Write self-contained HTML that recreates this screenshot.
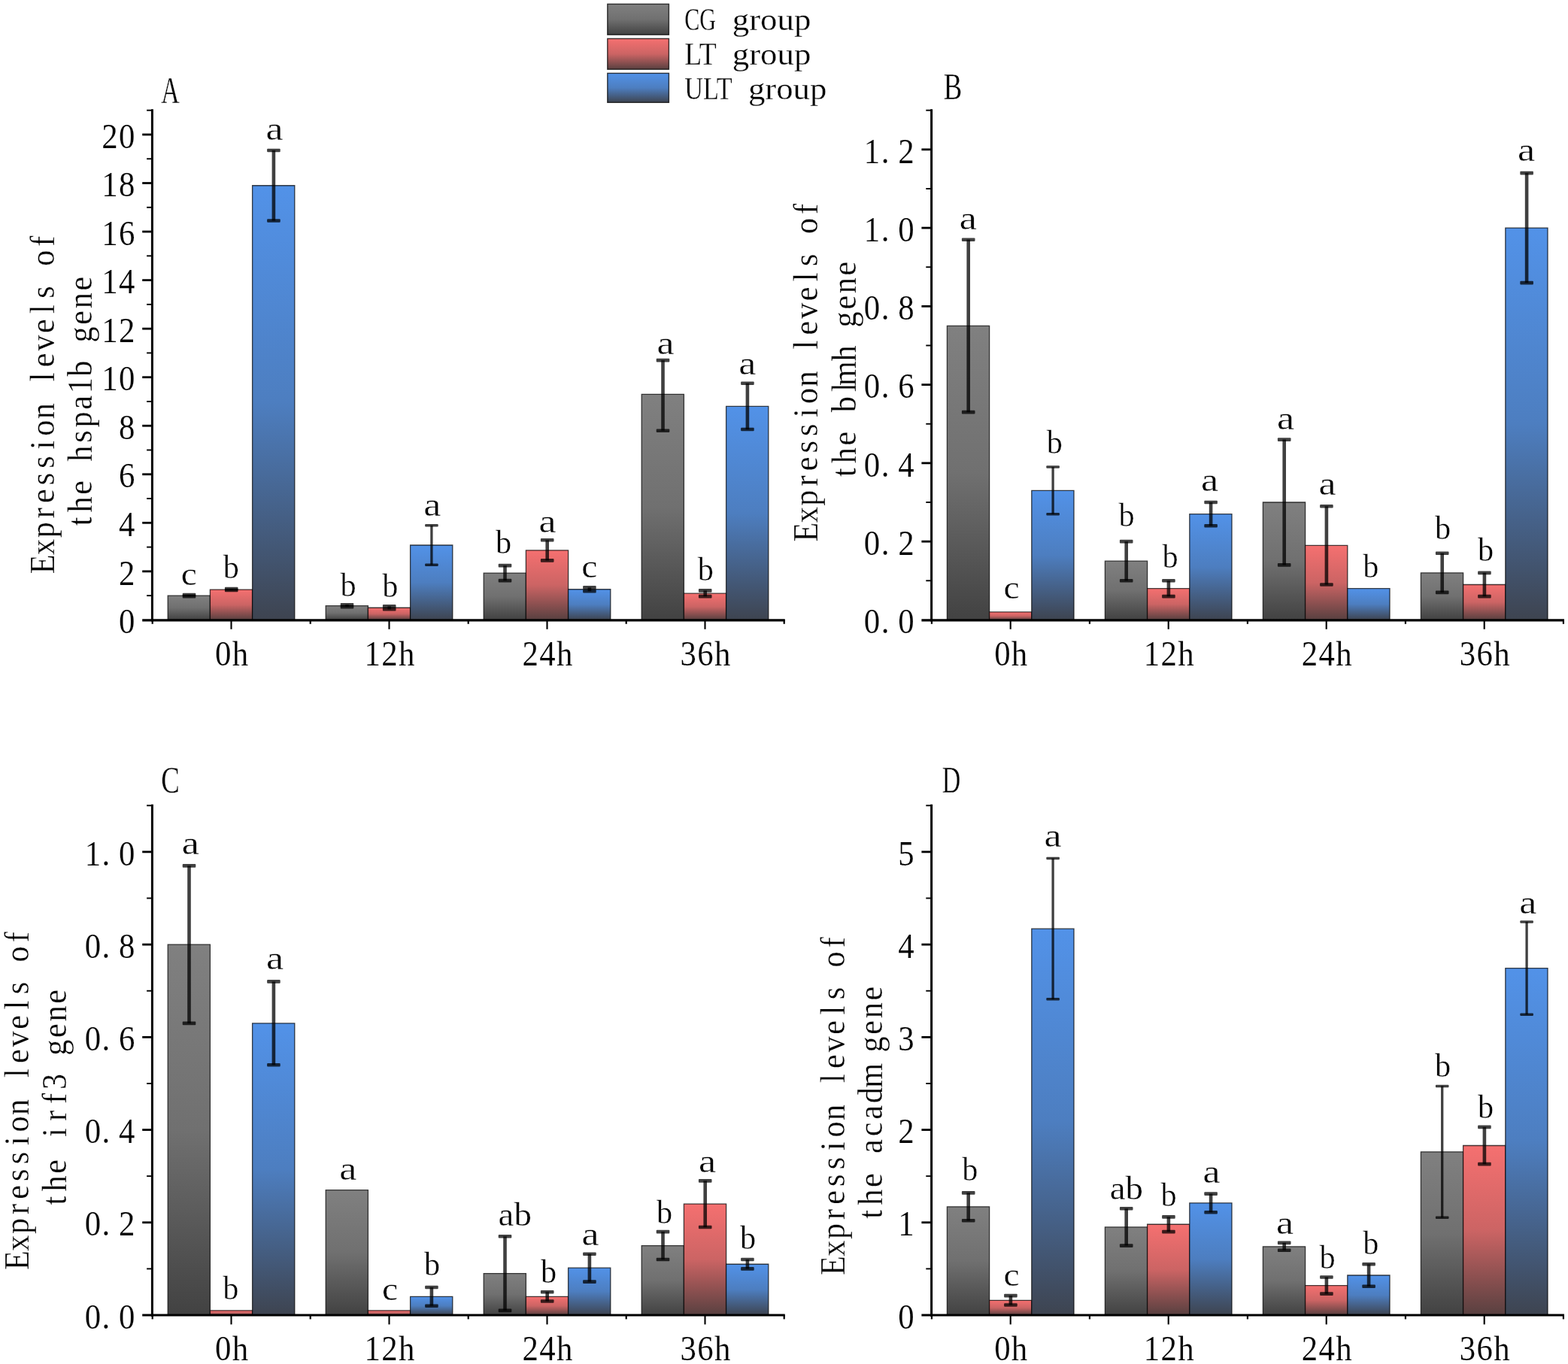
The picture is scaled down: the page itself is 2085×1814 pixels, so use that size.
<!DOCTYPE html>
<html lang="en"><head><meta charset="utf-8"><title>Expression levels of hspa1b, blmh, irf3 and acadm genes</title>
<style>html,body{margin:0;padding:0;background:#fff}body{width:2085px;height:1814px;overflow:hidden}svg{display:block}text{font-family:'Liberation Serif', serif;fill:#000}.m{stroke:#fff;stroke-width:0.15}.s{stroke:#fff;stroke-width:0.35}.t{stroke:#fff;stroke-width:0.3}</style>
</head><body>
<svg width="2085" height="1814" viewBox="0 0 2085 1814">
<defs>
<linearGradient id="gg" x1="0" y1="0" x2="0" y2="1"><stop offset="0" stop-color="#808080"/><stop offset="0.5" stop-color="#707070"/><stop offset="1" stop-color="#424242"/></linearGradient>
<linearGradient id="gr" x1="0" y1="0" x2="0" y2="1"><stop offset="0" stop-color="#f57070"/><stop offset="0.5" stop-color="#cc6464"/><stop offset="1" stop-color="#584040"/></linearGradient>
<linearGradient id="gb" x1="0" y1="0" x2="0" y2="1"><stop offset="0" stop-color="#5292e8"/><stop offset="0.5" stop-color="#4d7ec0"/><stop offset="1" stop-color="#3e4450"/></linearGradient>
</defs>
<rect width="2085" height="1814" fill="#fff"/>
<g id="legend">
<rect x="807.8" y="5.4" width="81.6" height="40.80" fill="url(#gg)" stroke="#000" stroke-opacity="0.75" stroke-width="1.4"/>
<text y="39.50" font-size="43" class="t"><tspan x="910.21" textLength="41.78" lengthAdjust="spacingAndGlyphs">CG</tspan> <tspan x="973.83" textLength="104.44" lengthAdjust="spacingAndGlyphs">group</tspan></text>
<rect x="807.8" y="51.4" width="81.6" height="40.80" fill="url(#gr)" stroke="#000" stroke-opacity="0.75" stroke-width="1.4"/>
<text y="85.80" font-size="43" class="t"><tspan x="910.21" textLength="41.78" lengthAdjust="spacingAndGlyphs">LT</tspan> <tspan x="973.83" textLength="104.44" lengthAdjust="spacingAndGlyphs">group</tspan></text>
<rect x="807.8" y="97.4" width="81.6" height="38.90" fill="url(#gb)" stroke="#000" stroke-opacity="0.75" stroke-width="1.4"/>
<text y="132.00" font-size="43" class="t"><tspan x="910.32" textLength="62.67" lengthAdjust="spacingAndGlyphs">ULT</tspan> <tspan x="994.93" textLength="104.44" lengthAdjust="spacingAndGlyphs">group</tspan></text>
</g>
<g id="panelA">
<rect x="223.20" y="792.13" width="56.20" height="32.27" fill="url(#gg)"/>
<polyline points="223.20,824.40 223.20,792.13 279.40,792.13 279.40,824.40" fill="none" stroke="#000" stroke-width="1.3" stroke-opacity="0.72"/>
<rect x="279.40" y="784.06" width="56.20" height="40.34" fill="url(#gr)"/>
<polyline points="279.40,824.40 279.40,784.06 335.60,784.06 335.60,824.40" fill="none" stroke="#000" stroke-width="1.3" stroke-opacity="0.72"/>
<rect x="335.60" y="246.74" width="56.20" height="577.66" fill="url(#gb)"/>
<polyline points="335.60,824.40 335.60,246.74 391.80,246.74 391.80,824.40" fill="none" stroke="#000" stroke-width="1.3" stroke-opacity="0.72"/>
<rect x="433.20" y="805.68" width="56.20" height="18.72" fill="url(#gg)"/>
<polyline points="433.20,824.40 433.20,805.68 489.40,805.68 489.40,824.40" fill="none" stroke="#000" stroke-width="1.3" stroke-opacity="0.72"/>
<rect x="489.40" y="808.26" width="56.20" height="16.14" fill="url(#gr)"/>
<polyline points="489.40,824.40 489.40,808.26 545.60,808.26 545.60,824.40" fill="none" stroke="#000" stroke-width="1.3" stroke-opacity="0.72"/>
<rect x="545.60" y="725.00" width="56.20" height="99.40" fill="url(#gb)"/>
<polyline points="545.60,824.40 545.60,725.00 601.80,725.00 601.80,824.40" fill="none" stroke="#000" stroke-width="1.3" stroke-opacity="0.72"/>
<rect x="643.20" y="762.12" width="56.20" height="62.28" fill="url(#gg)"/>
<polyline points="643.20,824.40 643.20,762.12 699.40,762.12 699.40,824.40" fill="none" stroke="#000" stroke-width="1.3" stroke-opacity="0.72"/>
<rect x="699.40" y="731.78" width="56.20" height="92.62" fill="url(#gr)"/>
<polyline points="699.40,824.40 699.40,731.78 755.60,731.78 755.60,824.40" fill="none" stroke="#000" stroke-width="1.3" stroke-opacity="0.72"/>
<rect x="755.60" y="783.74" width="56.20" height="40.66" fill="url(#gb)"/>
<polyline points="755.60,824.40 755.60,783.74 811.80,783.74 811.80,824.40" fill="none" stroke="#000" stroke-width="1.3" stroke-opacity="0.72"/>
<rect x="853.20" y="524.28" width="56.20" height="300.12" fill="url(#gg)"/>
<polyline points="853.20,824.40 853.20,524.28 909.40,524.28 909.40,824.40" fill="none" stroke="#000" stroke-width="1.3" stroke-opacity="0.72"/>
<rect x="909.40" y="789.22" width="56.20" height="35.18" fill="url(#gr)"/>
<polyline points="909.40,824.40 909.40,789.22 965.60,789.22 965.60,824.40" fill="none" stroke="#000" stroke-width="1.3" stroke-opacity="0.72"/>
<rect x="965.60" y="540.41" width="56.20" height="283.99" fill="url(#gb)"/>
<polyline points="965.60,824.40 965.60,540.41 1021.80,540.41 1021.80,824.40" fill="none" stroke="#000" stroke-width="1.3" stroke-opacity="0.72"/>
<g fill="#000" fill-opacity="0.75"><rect x="249.20" y="791.16" width="4.6" height="1.94"/><rect x="242.70" y="788.86" width="17.6" height="4.6" rx="1"/><rect x="242.70" y="790.80" width="17.6" height="4.6" rx="1"/></g>
<g fill="#000" fill-opacity="0.75"><rect x="305.40" y="783.09" width="4.6" height="1.94"/><rect x="298.90" y="780.79" width="17.6" height="4.6" rx="1"/><rect x="298.90" y="782.73" width="17.6" height="4.6" rx="1"/></g>
<g fill="#000" fill-opacity="0.75"><rect x="361.60" y="199.95" width="4.6" height="93.59"/><rect x="355.10" y="197.65" width="17.6" height="4.6" rx="1"/><rect x="355.10" y="291.23" width="17.6" height="4.6" rx="1"/></g>
<g fill="#000" fill-opacity="0.75"><rect x="459.20" y="804.23" width="4.6" height="2.90"/><rect x="452.70" y="801.93" width="17.6" height="4.6" rx="1"/><rect x="452.70" y="804.83" width="17.6" height="4.6" rx="1"/></g>
<g fill="#000" fill-opacity="0.75"><rect x="515.40" y="806.33" width="4.6" height="3.87"/><rect x="508.90" y="804.03" width="17.6" height="4.6" rx="1"/><rect x="508.90" y="807.90" width="17.6" height="4.6" rx="1"/></g>
<g fill="#000" fill-opacity="0.75"><rect x="572.25" y="698.86" width="3.3" height="52.28"/><rect x="565.10" y="697.11" width="17.6" height="3.5" rx="1"/><rect x="565.10" y="749.39" width="17.6" height="3.5" rx="1"/></g>
<g fill="#000" fill-opacity="0.75"><rect x="669.20" y="752.11" width="4.6" height="20.01"/><rect x="662.70" y="749.81" width="17.6" height="4.6" rx="1"/><rect x="662.70" y="769.82" width="17.6" height="4.6" rx="1"/></g>
<g fill="#000" fill-opacity="0.75"><rect x="725.40" y="718.23" width="4.6" height="27.11"/><rect x="718.90" y="715.93" width="17.6" height="4.6" rx="1"/><rect x="718.90" y="743.03" width="17.6" height="4.6" rx="1"/></g>
<g fill="#000" fill-opacity="0.75"><rect x="781.60" y="781.32" width="4.6" height="4.84"/><rect x="775.10" y="779.02" width="17.6" height="4.6" rx="1"/><rect x="775.10" y="783.86" width="17.6" height="4.6" rx="1"/></g>
<g fill="#000" fill-opacity="0.75"><rect x="879.20" y="479.10" width="4.6" height="93.59"/><rect x="872.70" y="476.80" width="17.6" height="4.6" rx="1"/><rect x="872.70" y="570.38" width="17.6" height="4.6" rx="1"/></g>
<g fill="#000" fill-opacity="0.75"><rect x="935.40" y="785.35" width="4.6" height="7.75"/><rect x="928.90" y="783.05" width="17.6" height="4.6" rx="1"/><rect x="928.90" y="790.80" width="17.6" height="4.6" rx="1"/></g>
<g fill="#000" fill-opacity="0.75"><rect x="991.60" y="509.75" width="4.6" height="61.32"/><rect x="985.10" y="507.45" width="17.6" height="4.6" rx="1"/><rect x="985.10" y="568.77" width="17.6" height="4.6" rx="1"/></g>
<line x1="202.40" y1="145.20" x2="202.40" y2="826.50" stroke="#000" stroke-width="3.0" stroke-linecap="butt"/>
<line x1="189.20" y1="824.95" x2="1043.70" y2="824.95" stroke="#000" stroke-width="3.2" stroke-linecap="butt"/>
<line x1="189.20" y1="759.86" x2="202.70" y2="759.86" stroke="#000" stroke-width="2.8" stroke-linecap="butt"/>
<line x1="189.20" y1="695.31" x2="202.70" y2="695.31" stroke="#000" stroke-width="2.8" stroke-linecap="butt"/>
<line x1="189.20" y1="630.77" x2="202.70" y2="630.77" stroke="#000" stroke-width="2.8" stroke-linecap="butt"/>
<line x1="189.20" y1="566.23" x2="202.70" y2="566.23" stroke="#000" stroke-width="2.8" stroke-linecap="butt"/>
<line x1="189.20" y1="501.69" x2="202.70" y2="501.69" stroke="#000" stroke-width="2.8" stroke-linecap="butt"/>
<line x1="189.20" y1="437.14" x2="202.70" y2="437.14" stroke="#000" stroke-width="2.8" stroke-linecap="butt"/>
<line x1="189.20" y1="372.60" x2="202.70" y2="372.60" stroke="#000" stroke-width="2.8" stroke-linecap="butt"/>
<line x1="189.20" y1="308.06" x2="202.70" y2="308.06" stroke="#000" stroke-width="2.8" stroke-linecap="butt"/>
<line x1="189.20" y1="243.51" x2="202.70" y2="243.51" stroke="#000" stroke-width="2.8" stroke-linecap="butt"/>
<line x1="189.20" y1="178.97" x2="202.70" y2="178.97" stroke="#000" stroke-width="2.8" stroke-linecap="butt"/>
<line x1="195.10" y1="792.13" x2="202.70" y2="792.13" stroke="#000" stroke-width="1.9" stroke-linecap="butt"/>
<line x1="195.10" y1="727.59" x2="202.70" y2="727.59" stroke="#000" stroke-width="1.9" stroke-linecap="butt"/>
<line x1="195.10" y1="663.04" x2="202.70" y2="663.04" stroke="#000" stroke-width="1.9" stroke-linecap="butt"/>
<line x1="195.10" y1="598.50" x2="202.70" y2="598.50" stroke="#000" stroke-width="1.9" stroke-linecap="butt"/>
<line x1="195.10" y1="533.96" x2="202.70" y2="533.96" stroke="#000" stroke-width="1.9" stroke-linecap="butt"/>
<line x1="195.10" y1="469.41" x2="202.70" y2="469.41" stroke="#000" stroke-width="1.9" stroke-linecap="butt"/>
<line x1="195.10" y1="404.87" x2="202.70" y2="404.87" stroke="#000" stroke-width="1.9" stroke-linecap="butt"/>
<line x1="195.10" y1="340.33" x2="202.70" y2="340.33" stroke="#000" stroke-width="1.9" stroke-linecap="butt"/>
<line x1="195.10" y1="275.79" x2="202.70" y2="275.79" stroke="#000" stroke-width="1.9" stroke-linecap="butt"/>
<line x1="195.10" y1="211.24" x2="202.70" y2="211.24" stroke="#000" stroke-width="1.9" stroke-linecap="butt"/>
<line x1="195.10" y1="146.70" x2="202.70" y2="146.70" stroke="#000" stroke-width="1.9" stroke-linecap="butt"/>
<line x1="307.50" y1="824.00" x2="307.50" y2="836.80" stroke="#000" stroke-width="2.1" stroke-linecap="butt"/>
<line x1="517.50" y1="824.00" x2="517.50" y2="836.80" stroke="#000" stroke-width="2.1" stroke-linecap="butt"/>
<line x1="727.50" y1="824.00" x2="727.50" y2="836.80" stroke="#000" stroke-width="2.1" stroke-linecap="butt"/>
<line x1="937.50" y1="824.00" x2="937.50" y2="836.80" stroke="#000" stroke-width="2.1" stroke-linecap="butt"/>
<line x1="202.70" y1="824.00" x2="202.70" y2="829.80" stroke="#000" stroke-width="2.2" stroke-linecap="butt"/>
<line x1="412.70" y1="824.00" x2="412.70" y2="829.80" stroke="#000" stroke-width="2.2" stroke-linecap="butt"/>
<line x1="622.70" y1="824.00" x2="622.70" y2="829.80" stroke="#000" stroke-width="2.2" stroke-linecap="butt"/>
<line x1="832.70" y1="824.00" x2="832.70" y2="829.80" stroke="#000" stroke-width="2.2" stroke-linecap="butt"/>
<line x1="1042.70" y1="824.00" x2="1042.70" y2="829.80" stroke="#000" stroke-width="2.2" stroke-linecap="butt"/>
<text transform="translate(180.10 842.10) scale(0.93 1)" x="-12.20" y="0" font-size="46" text-anchor="middle" class="m" >0</text>
<text transform="translate(180.10 777.56) scale(0.93 1)" x="-12.20" y="0" font-size="46" text-anchor="middle" class="m" >2</text>
<text transform="translate(180.10 713.01) scale(0.93 1)" x="-12.20" y="0" font-size="46" text-anchor="middle" class="m" >4</text>
<text transform="translate(180.10 648.47) scale(0.93 1)" x="-12.20" y="0" font-size="46" text-anchor="middle" class="m" >6</text>
<text transform="translate(180.10 583.93) scale(0.93 1)" x="-12.20" y="0" font-size="46" text-anchor="middle" class="m" >8</text>
<text transform="translate(180.10 519.39) scale(0.93 1)" x="-36.61 -12.20" y="0" font-size="46" text-anchor="middle" class="m" >10</text>
<text transform="translate(180.10 454.84) scale(0.93 1)" x="-36.61 -12.20" y="0" font-size="46" text-anchor="middle" class="m" >12</text>
<text transform="translate(180.10 390.30) scale(0.93 1)" x="-36.61 -12.20" y="0" font-size="46" text-anchor="middle" class="m" >14</text>
<text transform="translate(180.10 325.76) scale(0.93 1)" x="-36.61 -12.20" y="0" font-size="46" text-anchor="middle" class="m" >16</text>
<text transform="translate(180.10 261.21) scale(0.93 1)" x="-36.61 -12.20" y="0" font-size="46" text-anchor="middle" class="m" >18</text>
<text transform="translate(180.10 196.67) scale(0.93 1)" x="-36.61 -12.20" y="0" font-size="46" text-anchor="middle" class="m" >20</text>
<text transform="translate(308.00 885.20) scale(0.93 1)" x="-12.20 12.20" y="0" font-size="46" text-anchor="middle" class="m" >0h</text>
<text transform="translate(518.00 885.20) scale(0.93 1)" x="-24.41 0.00 24.41" y="0" font-size="46" text-anchor="middle" class="m" >12h</text>
<text transform="translate(728.00 885.20) scale(0.93 1)" x="-24.41 0.00 24.41" y="0" font-size="46" text-anchor="middle" class="m" >24h</text>
<text transform="translate(938.00 885.20) scale(0.93 1)" x="-24.41 0.00 24.41" y="0" font-size="46" text-anchor="middle" class="m" >36h</text>
<text transform="translate(71.50 535.30) rotate(-90) scale(0.9 1)" x="-238.99 -213.44 -188.33 -163.22 -138.11 -113.00 -87.89 -62.78 -37.67 -12.56 12.56 37.67 62.78 87.89 113.00 138.11 163.22 188.33 213.44 238.56" y="0" font-size="47" text-anchor="middle" class="t" >Expression levels of</text>
<text transform="translate(122.00 535.30) rotate(-90) scale(0.9 1)" x="-175.78 -150.67 -125.56 -100.44 -75.33 -50.22 -25.11 0.00 25.11 50.22 75.33 100.44 125.56 150.67 175.78" y="0" font-size="47" text-anchor="middle" class="t" >the hspa1b gene</text>
<text x="214.25" y="137.40" font-size="51.5" textLength="24.50" lengthAdjust="spacingAndGlyphs" class="t">A</text>
<text x="240.73" y="777.80" font-size="44.5" textLength="21.13" lengthAdjust="spacingAndGlyphs" class="s">c</text>
<text x="296.83" y="769.10" font-size="44.5" textLength="21.14" lengthAdjust="spacingAndGlyphs" class="s">b</text>
<text x="353.45" y="186.40" font-size="44.5" textLength="23.11" lengthAdjust="spacingAndGlyphs" class="s">a</text>
<text x="452.43" y="793.30" font-size="44.5" textLength="21.14" lengthAdjust="spacingAndGlyphs" class="s">b</text>
<text x="508.23" y="794.30" font-size="44.5" textLength="21.14" lengthAdjust="spacingAndGlyphs" class="s">b</text>
<text x="563.25" y="686.00" font-size="44.5" textLength="23.11" lengthAdjust="spacingAndGlyphs" class="s">a</text>
<text x="658.93" y="735.90" font-size="44.5" textLength="21.14" lengthAdjust="spacingAndGlyphs" class="s">b</text>
<text x="716.55" y="707.90" font-size="44.5" textLength="23.11" lengthAdjust="spacingAndGlyphs" class="s">a</text>
<text x="773.33" y="767.60" font-size="44.5" textLength="21.13" lengthAdjust="spacingAndGlyphs" class="s">c</text>
<text x="873.45" y="471.10" font-size="44.5" textLength="23.11" lengthAdjust="spacingAndGlyphs" class="s">a</text>
<text x="927.73" y="772.30" font-size="44.5" textLength="21.14" lengthAdjust="spacingAndGlyphs" class="s">b</text>
<text x="982.35" y="498.30" font-size="44.5" textLength="23.11" lengthAdjust="spacingAndGlyphs" class="s">a</text>
</g>
<g id="panelB">
<rect x="1259.40" y="433.42" width="56.20" height="390.98" fill="url(#gg)"/>
<polyline points="1259.40,824.40 1259.40,433.42 1315.60,433.42 1315.60,824.40" fill="none" stroke="#000" stroke-width="1.3" stroke-opacity="0.72"/>
<rect x="1315.60" y="813.97" width="56.20" height="10.43" fill="url(#gr)"/>
<polyline points="1315.60,824.40 1315.60,813.97 1371.80,813.97 1371.80,824.40" fill="none" stroke="#000" stroke-width="1.3" stroke-opacity="0.72"/>
<rect x="1371.80" y="652.37" width="56.20" height="172.03" fill="url(#gb)"/>
<polyline points="1371.80,824.40 1371.80,652.37 1428.00,652.37 1428.00,824.40" fill="none" stroke="#000" stroke-width="1.3" stroke-opacity="0.72"/>
<rect x="1469.40" y="746.20" width="56.20" height="78.20" fill="url(#gg)"/>
<polyline points="1469.40,824.40 1469.40,746.20 1525.60,746.20 1525.60,824.40" fill="none" stroke="#000" stroke-width="1.3" stroke-opacity="0.72"/>
<rect x="1525.60" y="782.70" width="56.20" height="41.70" fill="url(#gr)"/>
<polyline points="1525.60,824.40 1525.60,782.70 1581.80,782.70 1581.80,824.40" fill="none" stroke="#000" stroke-width="1.3" stroke-opacity="0.72"/>
<rect x="1581.80" y="683.65" width="56.20" height="140.75" fill="url(#gb)"/>
<polyline points="1581.80,824.40 1581.80,683.65 1638.00,683.65 1638.00,824.40" fill="none" stroke="#000" stroke-width="1.3" stroke-opacity="0.72"/>
<rect x="1679.40" y="668.01" width="56.20" height="156.39" fill="url(#gg)"/>
<polyline points="1679.40,824.40 1679.40,668.01 1735.60,668.01 1735.60,824.40" fill="none" stroke="#000" stroke-width="1.3" stroke-opacity="0.72"/>
<rect x="1735.60" y="725.35" width="56.20" height="99.05" fill="url(#gr)"/>
<polyline points="1735.60,824.40 1735.60,725.35 1791.80,725.35 1791.80,824.40" fill="none" stroke="#000" stroke-width="1.3" stroke-opacity="0.72"/>
<rect x="1791.80" y="782.70" width="56.20" height="41.70" fill="url(#gb)"/>
<polyline points="1791.80,824.40 1791.80,782.70 1848.00,782.70 1848.00,824.40" fill="none" stroke="#000" stroke-width="1.3" stroke-opacity="0.72"/>
<rect x="1889.40" y="761.84" width="56.20" height="62.56" fill="url(#gg)"/>
<polyline points="1889.40,824.40 1889.40,761.84 1945.60,761.84 1945.60,824.40" fill="none" stroke="#000" stroke-width="1.3" stroke-opacity="0.72"/>
<rect x="1945.60" y="777.48" width="56.20" height="46.92" fill="url(#gr)"/>
<polyline points="1945.60,824.40 1945.60,777.48 2001.80,777.48 2001.80,824.40" fill="none" stroke="#000" stroke-width="1.3" stroke-opacity="0.72"/>
<rect x="2001.80" y="303.09" width="56.20" height="521.31" fill="url(#gb)"/>
<polyline points="2001.80,824.40 2001.80,303.09 2058.00,303.09 2058.00,824.40" fill="none" stroke="#000" stroke-width="1.3" stroke-opacity="0.72"/>
<g fill="#000" fill-opacity="0.75"><rect x="1285.40" y="318.73" width="4.6" height="229.38"/><rect x="1278.90" y="316.43" width="17.6" height="4.6" rx="1"/><rect x="1278.90" y="545.81" width="17.6" height="4.6" rx="1"/></g>
<g fill="#000" fill-opacity="0.75"><rect x="1398.45" y="621.09" width="3.3" height="62.56"/><rect x="1391.30" y="619.34" width="17.6" height="3.5" rx="1"/><rect x="1391.30" y="681.90" width="17.6" height="3.5" rx="1"/></g>
<g fill="#000" fill-opacity="0.75"><rect x="1495.40" y="720.14" width="4.6" height="52.13"/><rect x="1488.90" y="717.84" width="17.6" height="4.6" rx="1"/><rect x="1488.90" y="769.97" width="17.6" height="4.6" rx="1"/></g>
<g fill="#000" fill-opacity="0.75"><rect x="1551.60" y="772.27" width="4.6" height="20.85"/><rect x="1545.10" y="769.97" width="17.6" height="4.6" rx="1"/><rect x="1545.10" y="790.82" width="17.6" height="4.6" rx="1"/></g>
<g fill="#000" fill-opacity="0.75"><rect x="1607.80" y="668.01" width="4.6" height="31.28"/><rect x="1601.30" y="665.71" width="17.6" height="4.6" rx="1"/><rect x="1601.30" y="696.99" width="17.6" height="4.6" rx="1"/></g>
<g fill="#000" fill-opacity="0.75"><rect x="1705.40" y="584.60" width="4.6" height="166.82"/><rect x="1698.90" y="582.30" width="17.6" height="4.6" rx="1"/><rect x="1698.90" y="749.12" width="17.6" height="4.6" rx="1"/></g>
<g fill="#000" fill-opacity="0.75"><rect x="1761.60" y="673.22" width="4.6" height="104.26"/><rect x="1755.10" y="670.92" width="17.6" height="4.6" rx="1"/><rect x="1755.10" y="775.18" width="17.6" height="4.6" rx="1"/></g>
<g fill="#000" fill-opacity="0.75"><rect x="1915.40" y="735.78" width="4.6" height="52.13"/><rect x="1908.90" y="733.48" width="17.6" height="4.6" rx="1"/><rect x="1908.90" y="785.61" width="17.6" height="4.6" rx="1"/></g>
<g fill="#000" fill-opacity="0.75"><rect x="1971.60" y="761.84" width="4.6" height="31.28"/><rect x="1965.10" y="759.54" width="17.6" height="4.6" rx="1"/><rect x="1965.10" y="790.82" width="17.6" height="4.6" rx="1"/></g>
<g fill="#000" fill-opacity="0.75"><rect x="2027.80" y="230.11" width="4.6" height="145.97"/><rect x="2021.30" y="227.81" width="17.6" height="4.6" rx="1"/><rect x="2021.30" y="373.78" width="17.6" height="4.6" rx="1"/></g>
<line x1="1238.60" y1="145.20" x2="1238.60" y2="826.50" stroke="#000" stroke-width="3.0" stroke-linecap="butt"/>
<line x1="1225.40" y1="824.95" x2="2079.90" y2="824.95" stroke="#000" stroke-width="3.2" stroke-linecap="butt"/>
<line x1="1225.40" y1="720.14" x2="1238.90" y2="720.14" stroke="#000" stroke-width="2.8" stroke-linecap="butt"/>
<line x1="1225.40" y1="615.88" x2="1238.90" y2="615.88" stroke="#000" stroke-width="2.8" stroke-linecap="butt"/>
<line x1="1225.40" y1="511.62" x2="1238.90" y2="511.62" stroke="#000" stroke-width="2.8" stroke-linecap="butt"/>
<line x1="1225.40" y1="407.35" x2="1238.90" y2="407.35" stroke="#000" stroke-width="2.8" stroke-linecap="butt"/>
<line x1="1225.40" y1="303.09" x2="1238.90" y2="303.09" stroke="#000" stroke-width="2.8" stroke-linecap="butt"/>
<line x1="1225.40" y1="198.83" x2="1238.90" y2="198.83" stroke="#000" stroke-width="2.8" stroke-linecap="butt"/>
<line x1="1231.30" y1="772.27" x2="1238.90" y2="772.27" stroke="#000" stroke-width="1.9" stroke-linecap="butt"/>
<line x1="1231.30" y1="668.01" x2="1238.90" y2="668.01" stroke="#000" stroke-width="1.9" stroke-linecap="butt"/>
<line x1="1231.30" y1="563.75" x2="1238.90" y2="563.75" stroke="#000" stroke-width="1.9" stroke-linecap="butt"/>
<line x1="1231.30" y1="459.48" x2="1238.90" y2="459.48" stroke="#000" stroke-width="1.9" stroke-linecap="butt"/>
<line x1="1231.30" y1="355.22" x2="1238.90" y2="355.22" stroke="#000" stroke-width="1.9" stroke-linecap="butt"/>
<line x1="1231.30" y1="250.96" x2="1238.90" y2="250.96" stroke="#000" stroke-width="1.9" stroke-linecap="butt"/>
<line x1="1231.30" y1="146.70" x2="1238.90" y2="146.70" stroke="#000" stroke-width="1.9" stroke-linecap="butt"/>
<line x1="1343.70" y1="824.00" x2="1343.70" y2="836.80" stroke="#000" stroke-width="2.1" stroke-linecap="butt"/>
<line x1="1553.70" y1="824.00" x2="1553.70" y2="836.80" stroke="#000" stroke-width="2.1" stroke-linecap="butt"/>
<line x1="1763.70" y1="824.00" x2="1763.70" y2="836.80" stroke="#000" stroke-width="2.1" stroke-linecap="butt"/>
<line x1="1973.70" y1="824.00" x2="1973.70" y2="836.80" stroke="#000" stroke-width="2.1" stroke-linecap="butt"/>
<line x1="1238.90" y1="824.00" x2="1238.90" y2="829.80" stroke="#000" stroke-width="2.2" stroke-linecap="butt"/>
<line x1="1448.90" y1="824.00" x2="1448.90" y2="829.80" stroke="#000" stroke-width="2.2" stroke-linecap="butt"/>
<line x1="1658.90" y1="824.00" x2="1658.90" y2="829.80" stroke="#000" stroke-width="2.2" stroke-linecap="butt"/>
<line x1="1868.90" y1="824.00" x2="1868.90" y2="829.80" stroke="#000" stroke-width="2.2" stroke-linecap="butt"/>
<line x1="2078.90" y1="824.00" x2="2078.90" y2="829.80" stroke="#000" stroke-width="2.2" stroke-linecap="butt"/>
<text transform="translate(1216.30 842.10) scale(0.93 1)" x="-61.02 -42.23 -12.20" y="0" font-size="46" text-anchor="middle" class="m" >0.0</text>
<text transform="translate(1216.30 737.84) scale(0.93 1)" x="-61.02 -42.23 -12.20" y="0" font-size="46" text-anchor="middle" class="m" >0.2</text>
<text transform="translate(1216.30 633.58) scale(0.93 1)" x="-61.02 -42.23 -12.20" y="0" font-size="46" text-anchor="middle" class="m" >0.4</text>
<text transform="translate(1216.30 529.32) scale(0.93 1)" x="-61.02 -42.23 -12.20" y="0" font-size="46" text-anchor="middle" class="m" >0.6</text>
<text transform="translate(1216.30 425.05) scale(0.93 1)" x="-61.02 -42.23 -12.20" y="0" font-size="46" text-anchor="middle" class="m" >0.8</text>
<text transform="translate(1216.30 320.79) scale(0.93 1)" x="-61.02 -42.23 -12.20" y="0" font-size="46" text-anchor="middle" class="m" >1.0</text>
<text transform="translate(1216.30 216.53) scale(0.93 1)" x="-61.02 -42.23 -12.20" y="0" font-size="46" text-anchor="middle" class="m" >1.2</text>
<text transform="translate(1344.20 885.20) scale(0.93 1)" x="-12.20 12.20" y="0" font-size="46" text-anchor="middle" class="m" >0h</text>
<text transform="translate(1554.20 885.20) scale(0.93 1)" x="-24.41 0.00 24.41" y="0" font-size="46" text-anchor="middle" class="m" >12h</text>
<text transform="translate(1764.20 885.20) scale(0.93 1)" x="-24.41 0.00 24.41" y="0" font-size="46" text-anchor="middle" class="m" >24h</text>
<text transform="translate(1974.20 885.20) scale(0.93 1)" x="-24.41 0.00 24.41" y="0" font-size="46" text-anchor="middle" class="m" >36h</text>
<text transform="translate(1087.00 492.60) rotate(-90) scale(0.9 1)" x="-238.99 -213.44 -188.33 -163.22 -138.11 -113.00 -87.89 -62.78 -37.67 -12.56 12.56 37.67 62.78 87.89 113.00 138.11 163.22 188.33 213.44 238.56" y="0" font-size="47" text-anchor="middle" class="t" >Expression levels of</text>
<text transform="translate(1137.50 492.60) rotate(-90) scale(0.9 1)" x="-150.67 -125.56 -100.44 -75.33 -50.22 -25.11 -4.36 25.11 50.22 75.33 100.44 125.56 150.67" y="0" font-size="47" text-anchor="middle" class="t" >the blmh gene</text>
<text x="1254.75" y="132.30" font-size="51.5" textLength="24.50" lengthAdjust="spacingAndGlyphs" class="t">B</text>
<text x="1275.85" y="304.80" font-size="44.5" textLength="23.11" lengthAdjust="spacingAndGlyphs" class="s">a</text>
<text x="1334.43" y="795.60" font-size="44.5" textLength="21.13" lengthAdjust="spacingAndGlyphs" class="s">c</text>
<text x="1391.83" y="603.40" font-size="44.5" textLength="21.14" lengthAdjust="spacingAndGlyphs" class="s">b</text>
<text x="1487.43" y="700.30" font-size="44.5" textLength="21.14" lengthAdjust="spacingAndGlyphs" class="s">b</text>
<text x="1545.43" y="754.80" font-size="44.5" textLength="21.14" lengthAdjust="spacingAndGlyphs" class="s">b</text>
<text x="1596.95" y="652.90" font-size="44.5" textLength="23.11" lengthAdjust="spacingAndGlyphs" class="s">a</text>
<text x="1697.95" y="571.30" font-size="44.5" textLength="23.11" lengthAdjust="spacingAndGlyphs" class="s">a</text>
<text x="1753.45" y="658.00" font-size="44.5" textLength="23.11" lengthAdjust="spacingAndGlyphs" class="s">a</text>
<text x="1812.13" y="767.60" font-size="44.5" textLength="21.14" lengthAdjust="spacingAndGlyphs" class="s">b</text>
<text x="1907.93" y="716.60" font-size="44.5" textLength="21.14" lengthAdjust="spacingAndGlyphs" class="s">b</text>
<text x="1965.03" y="746.20" font-size="44.5" textLength="21.14" lengthAdjust="spacingAndGlyphs" class="s">b</text>
<text x="2018.05" y="214.40" font-size="44.5" textLength="23.11" lengthAdjust="spacingAndGlyphs" class="s">a</text>
</g>
<g id="panelC">
<rect x="223.20" y="1256.13" width="56.20" height="492.87" fill="url(#gg)"/>
<polyline points="223.20,1749.00 223.20,1256.13 279.40,1256.13 279.40,1749.00" fill="none" stroke="#000" stroke-width="1.3" stroke-opacity="0.72"/>
<rect x="279.40" y="1742.84" width="56.20" height="6.16" fill="url(#gr)"/>
<polyline points="279.40,1749.00 279.40,1742.84 335.60,1742.84 335.60,1749.00" fill="none" stroke="#000" stroke-width="1.3" stroke-opacity="0.72"/>
<rect x="335.60" y="1360.86" width="56.20" height="388.14" fill="url(#gb)"/>
<polyline points="335.60,1749.00 335.60,1360.86 391.80,1360.86 391.80,1749.00" fill="none" stroke="#000" stroke-width="1.3" stroke-opacity="0.72"/>
<rect x="433.20" y="1582.66" width="56.20" height="166.34" fill="url(#gg)"/>
<polyline points="433.20,1749.00 433.20,1582.66 489.40,1582.66 489.40,1749.00" fill="none" stroke="#000" stroke-width="1.3" stroke-opacity="0.72"/>
<rect x="489.40" y="1742.84" width="56.20" height="6.16" fill="url(#gr)"/>
<polyline points="489.40,1749.00 489.40,1742.84 545.60,1742.84 545.60,1749.00" fill="none" stroke="#000" stroke-width="1.3" stroke-opacity="0.72"/>
<rect x="545.60" y="1724.36" width="56.20" height="24.64" fill="url(#gb)"/>
<polyline points="545.60,1749.00 545.60,1724.36 601.80,1724.36 601.80,1749.00" fill="none" stroke="#000" stroke-width="1.3" stroke-opacity="0.72"/>
<rect x="643.20" y="1693.55" width="56.20" height="55.45" fill="url(#gg)"/>
<polyline points="643.20,1749.00 643.20,1693.55 699.40,1693.55 699.40,1749.00" fill="none" stroke="#000" stroke-width="1.3" stroke-opacity="0.72"/>
<rect x="699.40" y="1724.36" width="56.20" height="24.64" fill="url(#gr)"/>
<polyline points="699.40,1749.00 699.40,1724.36 755.60,1724.36 755.60,1749.00" fill="none" stroke="#000" stroke-width="1.3" stroke-opacity="0.72"/>
<rect x="755.60" y="1686.16" width="56.20" height="62.84" fill="url(#gb)"/>
<polyline points="755.60,1749.00 755.60,1686.16 811.80,1686.16 811.80,1749.00" fill="none" stroke="#000" stroke-width="1.3" stroke-opacity="0.72"/>
<rect x="853.20" y="1656.59" width="56.20" height="92.41" fill="url(#gg)"/>
<polyline points="853.20,1749.00 853.20,1656.59 909.40,1656.59 909.40,1749.00" fill="none" stroke="#000" stroke-width="1.3" stroke-opacity="0.72"/>
<rect x="909.40" y="1601.14" width="56.20" height="147.86" fill="url(#gr)"/>
<polyline points="909.40,1749.00 909.40,1601.14 965.60,1601.14 965.60,1749.00" fill="none" stroke="#000" stroke-width="1.3" stroke-opacity="0.72"/>
<rect x="965.60" y="1681.23" width="56.20" height="67.77" fill="url(#gb)"/>
<polyline points="965.60,1749.00 965.60,1681.23 1021.80,1681.23 1021.80,1749.00" fill="none" stroke="#000" stroke-width="1.3" stroke-opacity="0.72"/>
<g fill="#000" fill-opacity="0.75"><rect x="249.20" y="1151.39" width="4.6" height="209.47"/><rect x="242.70" y="1149.09" width="17.6" height="4.6" rx="1"/><rect x="242.70" y="1358.56" width="17.6" height="4.6" rx="1"/></g>
<g fill="#000" fill-opacity="0.75"><rect x="361.60" y="1305.41" width="4.6" height="110.90"/><rect x="355.10" y="1303.11" width="17.6" height="4.6" rx="1"/><rect x="355.10" y="1414.01" width="17.6" height="4.6" rx="1"/></g>
<g fill="#000" fill-opacity="0.75"><rect x="571.60" y="1712.03" width="4.6" height="24.64"/><rect x="565.10" y="1709.73" width="17.6" height="4.6" rx="1"/><rect x="565.10" y="1734.38" width="17.6" height="4.6" rx="1"/></g>
<g fill="#000" fill-opacity="0.75"><rect x="669.20" y="1644.26" width="4.6" height="98.57"/><rect x="662.70" y="1641.96" width="17.6" height="4.6" rx="1"/><rect x="662.70" y="1740.54" width="17.6" height="4.6" rx="1"/></g>
<g fill="#000" fill-opacity="0.75"><rect x="725.40" y="1718.20" width="4.6" height="12.32"/><rect x="718.90" y="1715.90" width="17.6" height="4.6" rx="1"/><rect x="718.90" y="1728.22" width="17.6" height="4.6" rx="1"/></g>
<g fill="#000" fill-opacity="0.75"><rect x="781.60" y="1667.68" width="4.6" height="36.97"/><rect x="775.10" y="1665.38" width="17.6" height="4.6" rx="1"/><rect x="775.10" y="1702.34" width="17.6" height="4.6" rx="1"/></g>
<g fill="#000" fill-opacity="0.75"><rect x="879.20" y="1638.10" width="4.6" height="36.97"/><rect x="872.70" y="1635.80" width="17.6" height="4.6" rx="1"/><rect x="872.70" y="1672.77" width="17.6" height="4.6" rx="1"/></g>
<g fill="#000" fill-opacity="0.75"><rect x="935.40" y="1570.33" width="4.6" height="61.61"/><rect x="928.90" y="1568.03" width="17.6" height="4.6" rx="1"/><rect x="928.90" y="1629.64" width="17.6" height="4.6" rx="1"/></g>
<g fill="#000" fill-opacity="0.75"><rect x="991.60" y="1675.07" width="4.6" height="12.32"/><rect x="985.10" y="1672.77" width="17.6" height="4.6" rx="1"/><rect x="985.10" y="1685.09" width="17.6" height="4.6" rx="1"/></g>
<line x1="202.40" y1="1069.80" x2="202.40" y2="1751.10" stroke="#000" stroke-width="3.0" stroke-linecap="butt"/>
<line x1="189.20" y1="1749.00" x2="1043.70" y2="1749.00" stroke="#000" stroke-width="3.2" stroke-linecap="butt"/>
<line x1="189.20" y1="1625.78" x2="202.70" y2="1625.78" stroke="#000" stroke-width="2.8" stroke-linecap="butt"/>
<line x1="189.20" y1="1502.56" x2="202.70" y2="1502.56" stroke="#000" stroke-width="2.8" stroke-linecap="butt"/>
<line x1="189.20" y1="1379.35" x2="202.70" y2="1379.35" stroke="#000" stroke-width="2.8" stroke-linecap="butt"/>
<line x1="189.20" y1="1256.13" x2="202.70" y2="1256.13" stroke="#000" stroke-width="2.8" stroke-linecap="butt"/>
<line x1="189.20" y1="1132.91" x2="202.70" y2="1132.91" stroke="#000" stroke-width="2.8" stroke-linecap="butt"/>
<line x1="195.10" y1="1687.39" x2="202.70" y2="1687.39" stroke="#000" stroke-width="1.9" stroke-linecap="butt"/>
<line x1="195.10" y1="1564.17" x2="202.70" y2="1564.17" stroke="#000" stroke-width="1.9" stroke-linecap="butt"/>
<line x1="195.10" y1="1440.95" x2="202.70" y2="1440.95" stroke="#000" stroke-width="1.9" stroke-linecap="butt"/>
<line x1="195.10" y1="1317.74" x2="202.70" y2="1317.74" stroke="#000" stroke-width="1.9" stroke-linecap="butt"/>
<line x1="195.10" y1="1194.52" x2="202.70" y2="1194.52" stroke="#000" stroke-width="1.9" stroke-linecap="butt"/>
<line x1="195.10" y1="1071.30" x2="202.70" y2="1071.30" stroke="#000" stroke-width="1.9" stroke-linecap="butt"/>
<line x1="307.50" y1="1748.60" x2="307.50" y2="1761.40" stroke="#000" stroke-width="2.1" stroke-linecap="butt"/>
<line x1="517.50" y1="1748.60" x2="517.50" y2="1761.40" stroke="#000" stroke-width="2.1" stroke-linecap="butt"/>
<line x1="727.50" y1="1748.60" x2="727.50" y2="1761.40" stroke="#000" stroke-width="2.1" stroke-linecap="butt"/>
<line x1="937.50" y1="1748.60" x2="937.50" y2="1761.40" stroke="#000" stroke-width="2.1" stroke-linecap="butt"/>
<line x1="202.70" y1="1748.60" x2="202.70" y2="1754.40" stroke="#000" stroke-width="2.2" stroke-linecap="butt"/>
<line x1="412.70" y1="1748.60" x2="412.70" y2="1754.40" stroke="#000" stroke-width="2.2" stroke-linecap="butt"/>
<line x1="622.70" y1="1748.60" x2="622.70" y2="1754.40" stroke="#000" stroke-width="2.2" stroke-linecap="butt"/>
<line x1="832.70" y1="1748.60" x2="832.70" y2="1754.40" stroke="#000" stroke-width="2.2" stroke-linecap="butt"/>
<line x1="1042.70" y1="1748.60" x2="1042.70" y2="1754.40" stroke="#000" stroke-width="2.2" stroke-linecap="butt"/>
<text transform="translate(180.10 1766.70) scale(0.93 1)" x="-61.02 -42.23 -12.20" y="0" font-size="46" text-anchor="middle" class="m" >0.0</text>
<text transform="translate(180.10 1643.48) scale(0.93 1)" x="-61.02 -42.23 -12.20" y="0" font-size="46" text-anchor="middle" class="m" >0.2</text>
<text transform="translate(180.10 1520.26) scale(0.93 1)" x="-61.02 -42.23 -12.20" y="0" font-size="46" text-anchor="middle" class="m" >0.4</text>
<text transform="translate(180.10 1397.05) scale(0.93 1)" x="-61.02 -42.23 -12.20" y="0" font-size="46" text-anchor="middle" class="m" >0.6</text>
<text transform="translate(180.10 1273.83) scale(0.93 1)" x="-61.02 -42.23 -12.20" y="0" font-size="46" text-anchor="middle" class="m" >0.8</text>
<text transform="translate(180.10 1150.61) scale(0.93 1)" x="-61.02 -42.23 -12.20" y="0" font-size="46" text-anchor="middle" class="m" >1.0</text>
<text transform="translate(308.00 1809.30) scale(0.93 1)" x="-12.20 12.20" y="0" font-size="46" text-anchor="middle" class="m" >0h</text>
<text transform="translate(518.00 1809.30) scale(0.93 1)" x="-24.41 0.00 24.41" y="0" font-size="46" text-anchor="middle" class="m" >12h</text>
<text transform="translate(728.00 1809.30) scale(0.93 1)" x="-24.41 0.00 24.41" y="0" font-size="46" text-anchor="middle" class="m" >24h</text>
<text transform="translate(938.00 1809.30) scale(0.93 1)" x="-24.41 0.00 24.41" y="0" font-size="46" text-anchor="middle" class="m" >36h</text>
<text transform="translate(37.50 1461.00) rotate(-90) scale(0.9 1)" x="-238.99 -213.44 -188.33 -163.22 -138.11 -113.00 -87.89 -62.78 -37.67 -12.56 12.56 37.67 62.78 87.89 113.00 138.11 163.22 188.33 213.44 238.56" y="0" font-size="47" text-anchor="middle" class="t" >Expression levels of</text>
<text transform="translate(88.00 1461.00) rotate(-90) scale(0.9 1)" x="-150.67 -125.56 -100.44 -75.33 -50.22 -25.11 0.00 25.11 50.22 75.33 100.44 125.56 150.67" y="0" font-size="47" text-anchor="middle" class="t" >the irf3 gene</text>
<text x="214.25" y="1053.50" font-size="51.5" textLength="24.50" lengthAdjust="spacingAndGlyphs" class="t">C</text>
<text x="241.85" y="1136.30" font-size="44.5" textLength="23.11" lengthAdjust="spacingAndGlyphs" class="s">a</text>
<text x="296.33" y="1727.60" font-size="44.5" textLength="21.14" lengthAdjust="spacingAndGlyphs" class="s">b</text>
<text x="353.95" y="1289.20" font-size="44.5" textLength="23.11" lengthAdjust="spacingAndGlyphs" class="s">a</text>
<text x="451.35" y="1568.60" font-size="44.5" textLength="23.11" lengthAdjust="spacingAndGlyphs" class="s">a</text>
<text x="507.93" y="1729.20" font-size="44.5" textLength="21.13" lengthAdjust="spacingAndGlyphs" class="s">c</text>
<text x="564.03" y="1696.00" font-size="44.5" textLength="21.14" lengthAdjust="spacingAndGlyphs" class="s">b</text>
<text x="662.58" y="1629.80" font-size="44.5" textLength="44.25" lengthAdjust="spacingAndGlyphs" class="s">ab</text>
<text x="718.93" y="1706.20" font-size="44.5" textLength="21.14" lengthAdjust="spacingAndGlyphs" class="s">b</text>
<text x="773.55" y="1655.80" font-size="44.5" textLength="23.11" lengthAdjust="spacingAndGlyphs" class="s">a</text>
<text x="872.93" y="1626.70" font-size="44.5" textLength="21.14" lengthAdjust="spacingAndGlyphs" class="s">b</text>
<text x="929.05" y="1558.90" font-size="44.5" textLength="23.11" lengthAdjust="spacingAndGlyphs" class="s">a</text>
<text x="984.03" y="1661.40" font-size="44.5" textLength="21.14" lengthAdjust="spacingAndGlyphs" class="s">b</text>
</g>
<g id="panelD">
<rect x="1259.40" y="1604.83" width="56.20" height="144.17" fill="url(#gg)"/>
<polyline points="1259.40,1749.00 1259.40,1604.83 1315.60,1604.83 1315.60,1749.00" fill="none" stroke="#000" stroke-width="1.3" stroke-opacity="0.72"/>
<rect x="1315.60" y="1729.29" width="56.20" height="19.71" fill="url(#gr)"/>
<polyline points="1315.60,1749.00 1315.60,1729.29 1371.80,1729.29 1371.80,1749.00" fill="none" stroke="#000" stroke-width="1.3" stroke-opacity="0.72"/>
<rect x="1371.80" y="1235.18" width="56.20" height="513.82" fill="url(#gb)"/>
<polyline points="1371.80,1749.00 1371.80,1235.18 1428.00,1235.18 1428.00,1749.00" fill="none" stroke="#000" stroke-width="1.3" stroke-opacity="0.72"/>
<rect x="1469.40" y="1631.94" width="56.20" height="117.06" fill="url(#gg)"/>
<polyline points="1469.40,1749.00 1469.40,1631.94 1525.60,1631.94 1525.60,1749.00" fill="none" stroke="#000" stroke-width="1.3" stroke-opacity="0.72"/>
<rect x="1525.60" y="1628.25" width="56.20" height="120.75" fill="url(#gr)"/>
<polyline points="1525.60,1749.00 1525.60,1628.25 1581.80,1628.25 1581.80,1749.00" fill="none" stroke="#000" stroke-width="1.3" stroke-opacity="0.72"/>
<rect x="1581.80" y="1599.91" width="56.20" height="149.09" fill="url(#gb)"/>
<polyline points="1581.80,1749.00 1581.80,1599.91 1638.00,1599.91 1638.00,1749.00" fill="none" stroke="#000" stroke-width="1.3" stroke-opacity="0.72"/>
<rect x="1679.40" y="1657.82" width="56.20" height="91.18" fill="url(#gg)"/>
<polyline points="1679.40,1749.00 1679.40,1657.82 1735.60,1657.82 1735.60,1749.00" fill="none" stroke="#000" stroke-width="1.3" stroke-opacity="0.72"/>
<rect x="1735.60" y="1709.57" width="56.20" height="39.43" fill="url(#gr)"/>
<polyline points="1735.60,1749.00 1735.60,1709.57 1791.80,1709.57 1791.80,1749.00" fill="none" stroke="#000" stroke-width="1.3" stroke-opacity="0.72"/>
<rect x="1791.80" y="1696.02" width="56.20" height="52.98" fill="url(#gb)"/>
<polyline points="1791.80,1749.00 1791.80,1696.02 1848.00,1696.02 1848.00,1749.00" fill="none" stroke="#000" stroke-width="1.3" stroke-opacity="0.72"/>
<rect x="1889.40" y="1531.89" width="56.20" height="217.11" fill="url(#gg)"/>
<polyline points="1889.40,1749.00 1889.40,1531.89 1945.60,1531.89 1945.60,1749.00" fill="none" stroke="#000" stroke-width="1.3" stroke-opacity="0.72"/>
<rect x="1945.60" y="1523.51" width="56.20" height="225.49" fill="url(#gr)"/>
<polyline points="1945.60,1749.00 1945.60,1523.51 2001.80,1523.51 2001.80,1749.00" fill="none" stroke="#000" stroke-width="1.3" stroke-opacity="0.72"/>
<rect x="2001.80" y="1287.55" width="56.20" height="461.45" fill="url(#gb)"/>
<polyline points="2001.80,1749.00 2001.80,1287.55 2058.00,1287.55 2058.00,1749.00" fill="none" stroke="#000" stroke-width="1.3" stroke-opacity="0.72"/>
<g fill="#000" fill-opacity="0.75"><rect x="1285.40" y="1586.35" width="4.6" height="36.97"/><rect x="1278.90" y="1584.05" width="17.6" height="4.6" rx="1"/><rect x="1278.90" y="1621.02" width="17.6" height="4.6" rx="1"/></g>
<g fill="#000" fill-opacity="0.75"><rect x="1341.60" y="1723.12" width="4.6" height="12.32"/><rect x="1335.10" y="1720.82" width="17.6" height="4.6" rx="1"/><rect x="1335.10" y="1733.15" width="17.6" height="4.6" rx="1"/></g>
<g fill="#000" fill-opacity="0.75"><rect x="1398.45" y="1141.53" width="3.3" height="187.29"/><rect x="1391.30" y="1139.78" width="17.6" height="3.5" rx="1"/><rect x="1391.30" y="1327.08" width="17.6" height="3.5" rx="1"/></g>
<g fill="#000" fill-opacity="0.75"><rect x="1495.40" y="1607.30" width="4.6" height="49.29"/><rect x="1488.90" y="1605.00" width="17.6" height="4.6" rx="1"/><rect x="1488.90" y="1654.29" width="17.6" height="4.6" rx="1"/></g>
<g fill="#000" fill-opacity="0.75"><rect x="1551.60" y="1618.39" width="4.6" height="19.71"/><rect x="1545.10" y="1616.09" width="17.6" height="4.6" rx="1"/><rect x="1545.10" y="1635.80" width="17.6" height="4.6" rx="1"/></g>
<g fill="#000" fill-opacity="0.75"><rect x="1607.80" y="1587.58" width="4.6" height="24.64"/><rect x="1601.30" y="1585.28" width="17.6" height="4.6" rx="1"/><rect x="1601.30" y="1609.93" width="17.6" height="4.6" rx="1"/></g>
<g fill="#000" fill-opacity="0.75"><rect x="1705.40" y="1652.89" width="4.6" height="9.86"/><rect x="1698.90" y="1650.59" width="17.6" height="4.6" rx="1"/><rect x="1698.90" y="1660.45" width="17.6" height="4.6" rx="1"/></g>
<g fill="#000" fill-opacity="0.75"><rect x="1761.60" y="1698.48" width="4.6" height="22.18"/><rect x="1755.10" y="1696.18" width="17.6" height="4.6" rx="1"/><rect x="1755.10" y="1718.36" width="17.6" height="4.6" rx="1"/></g>
<g fill="#000" fill-opacity="0.75"><rect x="1817.80" y="1681.23" width="4.6" height="29.57"/><rect x="1811.30" y="1678.93" width="17.6" height="4.6" rx="1"/><rect x="1811.30" y="1708.50" width="17.6" height="4.6" rx="1"/></g>
<g fill="#000" fill-opacity="0.75"><rect x="1916.05" y="1444.40" width="3.3" height="174.97"/><rect x="1908.90" y="1442.65" width="17.6" height="3.5" rx="1"/><rect x="1908.90" y="1617.62" width="17.6" height="3.5" rx="1"/></g>
<g fill="#000" fill-opacity="0.75"><rect x="1971.60" y="1498.87" width="4.6" height="49.29"/><rect x="1965.10" y="1496.57" width="17.6" height="4.6" rx="1"/><rect x="1965.10" y="1545.85" width="17.6" height="4.6" rx="1"/></g>
<g fill="#000" fill-opacity="0.75"><rect x="2028.45" y="1225.94" width="3.3" height="123.22"/><rect x="2021.30" y="1224.19" width="17.6" height="3.5" rx="1"/><rect x="2021.30" y="1347.41" width="17.6" height="3.5" rx="1"/></g>
<line x1="1238.60" y1="1069.80" x2="1238.60" y2="1751.10" stroke="#000" stroke-width="3.0" stroke-linecap="butt"/>
<line x1="1225.40" y1="1749.00" x2="2079.90" y2="1749.00" stroke="#000" stroke-width="3.2" stroke-linecap="butt"/>
<line x1="1225.40" y1="1625.78" x2="1238.90" y2="1625.78" stroke="#000" stroke-width="2.8" stroke-linecap="butt"/>
<line x1="1225.40" y1="1502.56" x2="1238.90" y2="1502.56" stroke="#000" stroke-width="2.8" stroke-linecap="butt"/>
<line x1="1225.40" y1="1379.35" x2="1238.90" y2="1379.35" stroke="#000" stroke-width="2.8" stroke-linecap="butt"/>
<line x1="1225.40" y1="1256.13" x2="1238.90" y2="1256.13" stroke="#000" stroke-width="2.8" stroke-linecap="butt"/>
<line x1="1225.40" y1="1132.91" x2="1238.90" y2="1132.91" stroke="#000" stroke-width="2.8" stroke-linecap="butt"/>
<line x1="1231.30" y1="1687.39" x2="1238.90" y2="1687.39" stroke="#000" stroke-width="1.9" stroke-linecap="butt"/>
<line x1="1231.30" y1="1564.17" x2="1238.90" y2="1564.17" stroke="#000" stroke-width="1.9" stroke-linecap="butt"/>
<line x1="1231.30" y1="1440.95" x2="1238.90" y2="1440.95" stroke="#000" stroke-width="1.9" stroke-linecap="butt"/>
<line x1="1231.30" y1="1317.74" x2="1238.90" y2="1317.74" stroke="#000" stroke-width="1.9" stroke-linecap="butt"/>
<line x1="1231.30" y1="1194.52" x2="1238.90" y2="1194.52" stroke="#000" stroke-width="1.9" stroke-linecap="butt"/>
<line x1="1231.30" y1="1071.30" x2="1238.90" y2="1071.30" stroke="#000" stroke-width="1.9" stroke-linecap="butt"/>
<line x1="1343.70" y1="1748.60" x2="1343.70" y2="1761.40" stroke="#000" stroke-width="2.1" stroke-linecap="butt"/>
<line x1="1553.70" y1="1748.60" x2="1553.70" y2="1761.40" stroke="#000" stroke-width="2.1" stroke-linecap="butt"/>
<line x1="1763.70" y1="1748.60" x2="1763.70" y2="1761.40" stroke="#000" stroke-width="2.1" stroke-linecap="butt"/>
<line x1="1973.70" y1="1748.60" x2="1973.70" y2="1761.40" stroke="#000" stroke-width="2.1" stroke-linecap="butt"/>
<line x1="1238.90" y1="1748.60" x2="1238.90" y2="1754.40" stroke="#000" stroke-width="2.2" stroke-linecap="butt"/>
<line x1="1448.90" y1="1748.60" x2="1448.90" y2="1754.40" stroke="#000" stroke-width="2.2" stroke-linecap="butt"/>
<line x1="1658.90" y1="1748.60" x2="1658.90" y2="1754.40" stroke="#000" stroke-width="2.2" stroke-linecap="butt"/>
<line x1="1868.90" y1="1748.60" x2="1868.90" y2="1754.40" stroke="#000" stroke-width="2.2" stroke-linecap="butt"/>
<line x1="2078.90" y1="1748.60" x2="2078.90" y2="1754.40" stroke="#000" stroke-width="2.2" stroke-linecap="butt"/>
<text transform="translate(1216.30 1766.70) scale(0.93 1)" x="-12.20" y="0" font-size="46" text-anchor="middle" class="m" >0</text>
<text transform="translate(1216.30 1643.48) scale(0.93 1)" x="-12.20" y="0" font-size="46" text-anchor="middle" class="m" >1</text>
<text transform="translate(1216.30 1520.26) scale(0.93 1)" x="-12.20" y="0" font-size="46" text-anchor="middle" class="m" >2</text>
<text transform="translate(1216.30 1397.05) scale(0.93 1)" x="-12.20" y="0" font-size="46" text-anchor="middle" class="m" >3</text>
<text transform="translate(1216.30 1273.83) scale(0.93 1)" x="-12.20" y="0" font-size="46" text-anchor="middle" class="m" >4</text>
<text transform="translate(1216.30 1150.61) scale(0.93 1)" x="-12.20" y="0" font-size="46" text-anchor="middle" class="m" >5</text>
<text transform="translate(1344.20 1809.30) scale(0.93 1)" x="-12.20 12.20" y="0" font-size="46" text-anchor="middle" class="m" >0h</text>
<text transform="translate(1554.20 1809.30) scale(0.93 1)" x="-24.41 0.00 24.41" y="0" font-size="46" text-anchor="middle" class="m" >12h</text>
<text transform="translate(1764.20 1809.30) scale(0.93 1)" x="-24.41 0.00 24.41" y="0" font-size="46" text-anchor="middle" class="m" >24h</text>
<text transform="translate(1974.20 1809.30) scale(0.93 1)" x="-24.41 0.00 24.41" y="0" font-size="46" text-anchor="middle" class="m" >36h</text>
<text transform="translate(1122.50 1468.00) rotate(-90) scale(0.9 1)" x="-238.99 -213.44 -188.33 -163.22 -138.11 -113.00 -87.89 -62.78 -37.67 -12.56 12.56 37.67 62.78 87.89 113.00 138.11 163.22 188.33 213.44 238.56" y="0" font-size="47" text-anchor="middle" class="t" >Expression levels of</text>
<text transform="translate(1173.00 1468.00) rotate(-90) scale(0.9 1)" x="-163.22 -138.11 -113.00 -87.89 -62.78 -37.67 -12.56 12.56 42.03 62.78 87.89 113.00 138.11 163.22" y="0" font-size="47" text-anchor="middle" class="t" >the acadm gene</text>
<text x="1252.75" y="1053.50" font-size="51.5" textLength="24.50" lengthAdjust="spacingAndGlyphs" class="t">D</text>
<text x="1279.33" y="1569.60" font-size="44.5" textLength="21.14" lengthAdjust="spacingAndGlyphs" class="s">b</text>
<text x="1334.43" y="1709.80" font-size="44.5" textLength="21.13" lengthAdjust="spacingAndGlyphs" class="s">c</text>
<text x="1388.45" y="1126.10" font-size="44.5" textLength="23.11" lengthAdjust="spacingAndGlyphs" class="s">a</text>
<text x="1475.78" y="1595.10" font-size="44.5" textLength="44.25" lengthAdjust="spacingAndGlyphs" class="s">ab</text>
<text x="1543.43" y="1604.30" font-size="44.5" textLength="21.14" lengthAdjust="spacingAndGlyphs" class="s">b</text>
<text x="1599.55" y="1573.20" font-size="44.5" textLength="23.11" lengthAdjust="spacingAndGlyphs" class="s">a</text>
<text x="1696.95" y="1641.00" font-size="44.5" textLength="23.11" lengthAdjust="spacingAndGlyphs" class="s">a</text>
<text x="1754.53" y="1686.90" font-size="44.5" textLength="21.14" lengthAdjust="spacingAndGlyphs" class="s">b</text>
<text x="1812.13" y="1667.50" font-size="44.5" textLength="21.14" lengthAdjust="spacingAndGlyphs" class="s">b</text>
<text x="1907.93" y="1432.00" font-size="44.5" textLength="21.14" lengthAdjust="spacingAndGlyphs" class="s">b</text>
<text x="1965.03" y="1487.00" font-size="44.5" textLength="21.14" lengthAdjust="spacingAndGlyphs" class="s">b</text>
<text x="2020.15" y="1215.30" font-size="44.5" textLength="23.11" lengthAdjust="spacingAndGlyphs" class="s">a</text>
</g>
</svg>
</body></html>
